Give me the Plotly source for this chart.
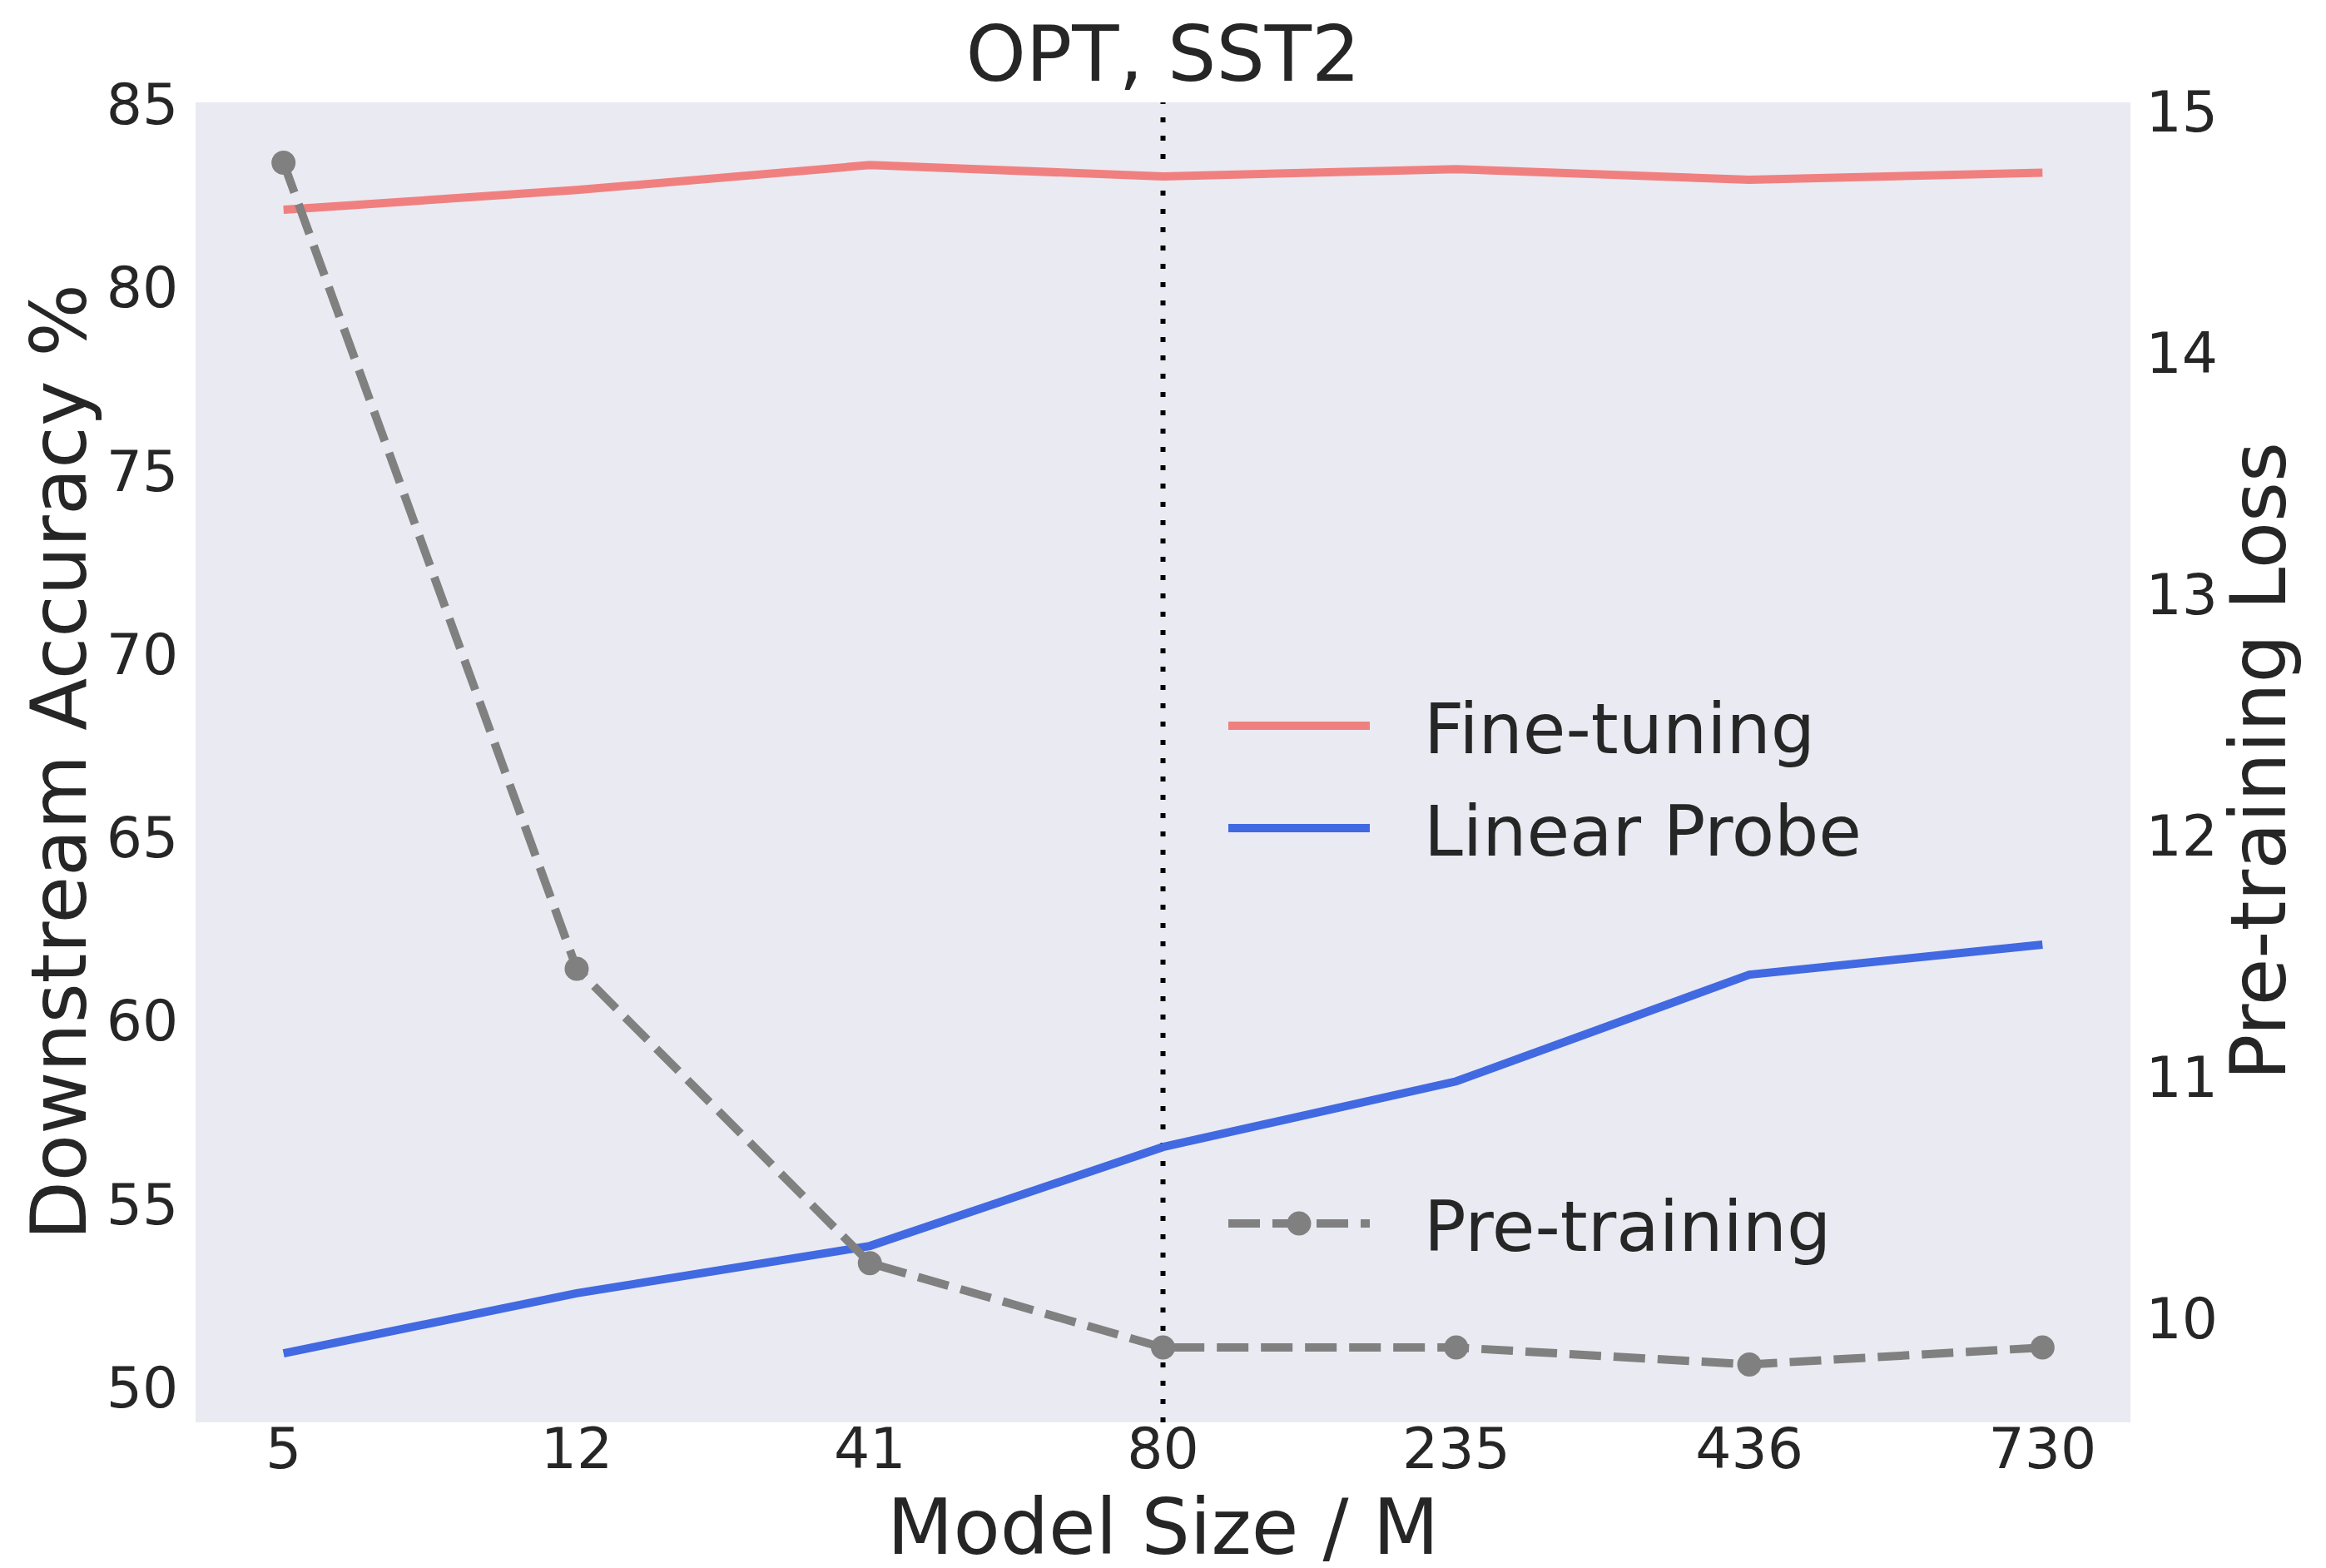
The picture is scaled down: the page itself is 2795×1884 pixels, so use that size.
import plotly.graph_objects as go

# ---- data ----
model_sizes = ["5", "12", "41", "80", "235", "436", "730"]
fine_tuning = [82.12, 82.66, 83.34, 83.03, 83.23, 82.94, 83.13]
linear_probe = [50.93, 52.57, 53.86, 56.56, 58.35, 61.26, 62.08]
pretrain_loss = [14.79, 11.45, 10.23, 9.88, 9.88, 9.81, 9.88]
left_ticks = [50, 55, 60, 65, 70, 75, 80, 85]
right_ticks = [10, 11, 12, 13, 14, 15]
marked_size = "80"

FONT = "DejaVu Sans"
TXT = "#262626"
C_FT = "#F08080"
C_LP = "#4169E1"
C_PT = "#808080"
LW = 10

W, H = 2795, 1884
L, R, T, B = 235, 235, 123, 175
PW, PH = W - L - R, H - T - B

def px(xp):
    return (xp - L) / PW

def py(yp):
    return (H - B - yp) / PH

fig = go.Figure()
fig.add_trace(go.Scatter(x=model_sizes, y=fine_tuning, mode="lines", name="Fine-tuning",
                         line=dict(color=C_FT, width=LW), showlegend=False))
fig.add_trace(go.Scatter(x=model_sizes, y=linear_probe, mode="lines", name="Linear Probe",
                         line=dict(color=C_LP, width=LW), showlegend=False))
fig.add_trace(go.Scatter(x=model_sizes, y=pretrain_loss, mode="lines+markers", name="Pre-training",
                         line=dict(color=C_PT, width=LW, dash="38px,15px"),
                         marker=dict(color=C_PT, size=29), yaxis="y2", showlegend=False))

# vertical dotted marker line
fig.add_shape(type="line", xref="x", yref="paper", x0=model_sizes.index(marked_size),
              x1=model_sizes.index(marked_size), y0=0, y1=1, layer="below",
              line=dict(color="black", width=6, dash="6px,16px"))

# manual legend (matplotlib-like long handles)
legend_items = [("Fine-tuning", C_FT, 872, "solid", False),
                ("Linear Probe", C_LP, 995, "solid", False),
                ("Pre-training", C_PT, 1470, "38px,15px", True)]
for name, col, yy, dash, mk in legend_items:
    fig.add_shape(type="line", xref="paper", yref="paper", x0=px(1476), x1=px(1646),
                  y0=py(yy), y1=py(yy), layer="above",
                  line=dict(color=col, width=LW, dash=dash))
    if mk:
        fig.add_shape(type="circle", xref="paper", yref="paper", xsizemode="pixel",
                      ysizemode="pixel", xanchor=px(1561), yanchor=py(yy),
                      x0=-14.5, x1=14.5, y0=-14.5, y1=14.5, layer="above",
                      fillcolor=col, line=dict(width=0))
    fig.add_annotation(text=name, xref="paper", yref="paper", x=px(1709), y=py(yy),
                       xanchor="left", yanchor="middle", showarrow=False, yshift=-4,
                       font=dict(family=FONT, size=84, color=TXT))

# axis titles
axis_titles = [("Downstream Accuracy %", 71, 916, -90),
               ("Pre-training Loss", 2714, 915, -90),
               ("Model Size / M", 1397, 1836, 0)]
for txt, xx, yy, ang in axis_titles:
    fig.add_annotation(text=txt, xref="paper", yref="paper", x=px(xx), y=py(yy),
                       xanchor="center", yanchor="middle", showarrow=False, textangle=ang,
                       font=dict(family=FONT, size=92, color=TXT))

fig.update_layout(
    width=W, height=H,
    margin=dict(l=L, r=R, t=T, b=B, pad=0, autoexpand=False),
    paper_bgcolor="white", plot_bgcolor="#EAEAF2",
    font=dict(family=FONT, color=TXT),
    title=dict(text="OPT, SST2", x=0.5, xanchor="center", y=1 - 65 / H, yanchor="middle",
               yref="container", font=dict(family=FONT, size=92, color=TXT)),
    xaxis=dict(type="category", categoryorder="array", categoryarray=model_sizes,
               range=[-0.3, 6.3], showgrid=False, zeroline=False, showline=False, automargin=False,
               ticks="", ticklabelstandoff=-14,
               tickfont=dict(family=FONT, size=68, color=TXT)),
    yaxis=dict(range=[49.05, 85.05], tickvals=left_ticks, showgrid=False, zeroline=False,
               showline=False, automargin=False, ticks="outside", ticklen=6,
               tickcolor="rgba(0,0,0,0)", tickfont=dict(family=FONT, size=68, color=TXT)),
    yaxis2=dict(range=[9.57, 15.04], tickvals=right_ticks, overlaying="y", side="right",
                showgrid=False, zeroline=False, showline=False, automargin=False,
                ticks="outside", ticklen=4, tickcolor="rgba(0,0,0,0)",
                tickfont=dict(family=FONT, size=68, color=TXT)),
)

fig.write_html("out.html")
